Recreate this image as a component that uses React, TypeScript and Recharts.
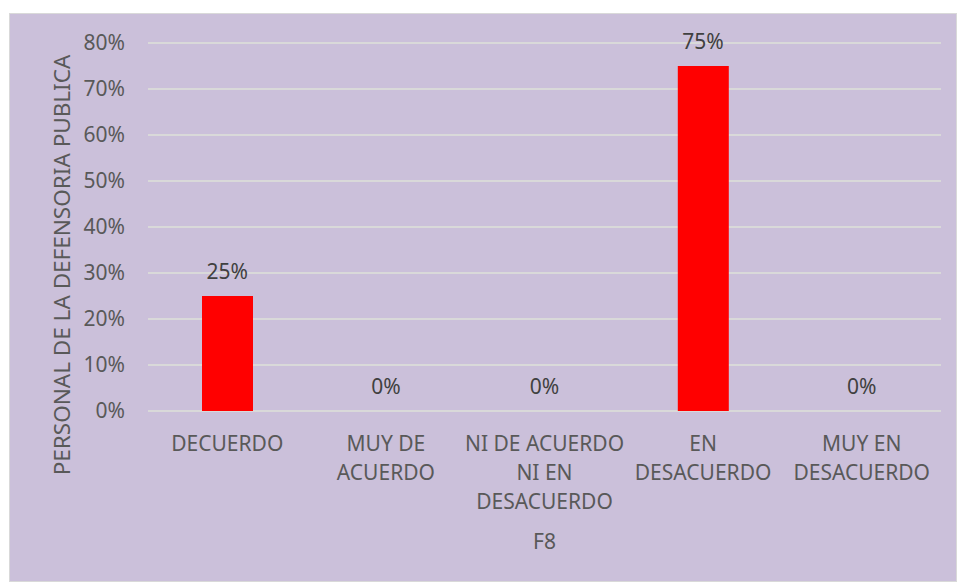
import React from 'react';
import { ComposedChart, Bar, Line, XAxis, YAxis, CartesianGrid, LabelList, Label } from 'recharts';

const categories = ['DECUERDO', 'MUY DE ACUERDO', 'NI DE ACUERDO NI EN DESACUERDO', 'EN DESACUERDO', 'MUY EN DESACUERDO'];
const tickLines = [
  ['DECUERDO'],
  ['MUY DE', 'ACUERDO'],
  ['NI DE ACUERDO', 'NI EN', 'DESACUERDO'],
  ['EN', 'DESACUERDO'],
  ['MUY EN', 'DESACUERDO'],
];
const values = [0.25, 0, 0, 0.75, 0];
const yTicks = [0, 0.1, 0.2, 0.3, 0.4, 0.5, 0.6, 0.7, 0.8];
const xTitle = 'F8';
const yTitle = 'PERSONAL DE LA DEFENSORIA PUBLICA';

const data = categories.map((c, i) => ({ name: c, value: values[i] }));

const FONT = '"Noto Sans", "Open Sans", sans-serif';
const TEXT = '#595959';

const pct = (v: any) => `${Math.round(Number(v) * 100)}%`;

const XTick = (props: any) => {
  const { x, y, index } = props;
  const lines = tickLines[index] || [];
  return (
    <text x={x} y={y + 40} textAnchor="middle" fill={TEXT} fontSize={21} fontFamily={FONT}>
      {lines.map((l, i) => (
        <tspan key={i} x={x} dy={i === 0 ? 0 : 29}>{l}</tspan>
      ))}
    </text>
  );
};

export default function App() {
  return (
    <div
      style={{
        position: 'absolute',
        left: 9,
        top: 13,
        width: 948,
        height: 569,
        background: '#CBC0DA',
        border: '1.5px solid #D9D9D9',
        boxSizing: 'border-box',
      }}
    >
      <ComposedChart
        width={946}
        height={567}
        data={data}
        margin={{ top: 29, right: 15, left: 58, bottom: 0 }}
        barSize={51}
      >
        <CartesianGrid vertical={false} stroke="#D9D9D9" strokeWidth={2} />
        <XAxis
          dataKey="name"
          axisLine={false}
          tickLine={false}
          tickSize={0}
          tickMargin={0}
          height={170}
          interval={0}
          tick={<XTick />}
        >
          <Label
            content={(p: any) => {
              const vb = p.viewBox || {};
              return (
                <text
                  x={vb.x + vb.width / 2}
                  y={vb.y + 138}
                  textAnchor="middle"
                  fill={TEXT}
                  fontSize={21}
                  fontFamily={FONT}
                >
                  {xTitle}
                </text>
              );
            }}
          />
        </XAxis>
        <YAxis
          domain={[0, 0.8]}
          ticks={yTicks}
          tickFormatter={pct}
          axisLine={false}
          tickLine={false}
          tickSize={0}
          tickMargin={23}
          width={80}
          tick={{ fill: TEXT, fontSize: 21, fontFamily: FONT }}
        >
          <Label
            content={(p: any) => {
              const vb = p.viewBox || {};
              const cx = vb.x + 2;
              const cy = 251;
              return (
                <text
                  x={cx}
                  y={cy}
                  transform={`rotate(-90, ${cx}, ${cy})`}
                  textAnchor="middle"
                  fill={TEXT}
                  fontSize={22.5}
                  fontFamily={FONT}
                >
                  {yTitle}
                </text>
              );
            }}
          />
        </YAxis>
        <Bar dataKey="value" fill="#FF0000" isAnimationActive={false} />
        <Line
          dataKey="value"
          stroke="none"
          dot={false}
          activeDot={false}
          isAnimationActive={false}
          legendType="none"
        >
          <LabelList
            dataKey="value"
            position="top"
            offset={17}
            formatter={pct}
            fill="#404040"
            fontSize={21}
            fontFamily={FONT}
          />
        </Line>
      </ComposedChart>
    </div>
  );
}
